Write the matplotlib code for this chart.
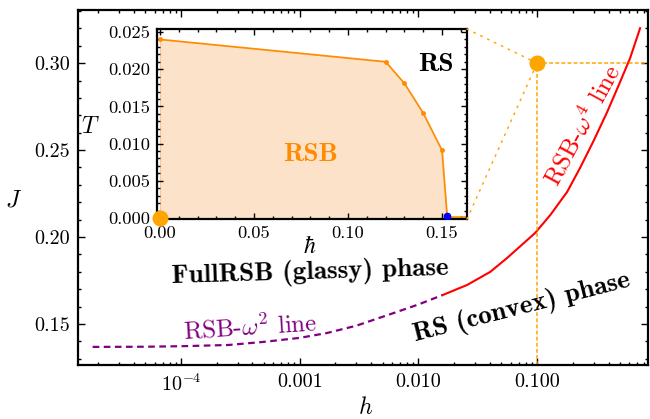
import numpy as np
import matplotlib
matplotlib.use("Agg")
import matplotlib.pyplot as plt
from matplotlib.ticker import MultipleLocator, LogLocator, NullFormatter, FormatStrFormatter
from matplotlib.patches import ConnectionPatch

plt.rcParams['font.family'] = 'serif'
plt.rcParams['font.serif'] = ['cmr10']
plt.rcParams['mathtext.fontset'] = 'cm'
plt.rcParams['axes.unicode_minus'] = False

# RSB-omega^2 line (dashed purple)
h_w2 = [1.8e-5, 5e-5, 1e-4, 2.5e-4, 5e-4, 1e-3, 1.7e-3, 3e-3, 6.2e-3, 1e-2, 1.61e-2]
J_w2 = [0.1368, 0.1369, 0.1372, 0.1379, 0.1397, 0.1420, 0.1448, 0.1490, 0.1563, 0.1612, 0.1667]

# RSB-omega^4 line (solid red)
h_w4 = [0.0161, 0.0257, 0.0402, 0.0558, 0.0962, 0.129, 0.179, 0.230, 0.296, 0.389, 0.500, 0.608, 0.738]
J_w4 = [0.1667, 0.1724, 0.1799, 0.1879, 0.2023, 0.2126, 0.2259, 0.2397, 0.2546, 0.2718, 0.2891, 0.3029, 0.3201]

# highlighted point
h_pt, J_pt = 0.1, 0.30

# inset: T vs hbar
hbar_in = [0.0, 0.12, 0.13, 0.14, 0.15, 0.1527]
T_in = [0.024, 0.021, 0.0181, 0.0141, 0.0091, 0.0003]
hbar_tail = [0.1527, 0.1633]
T_tail = [0.0001, 0.0001]

orange = '#FFA500'
dark_orange = '#FF8C00'
purple = '#800080'

fig = plt.figure(figsize=(6.5, 4.19), dpi=100)
ax = fig.add_axes([0.12, 0.1289, 0.877, 0.847])

ax.plot(h_w2, J_w2, color=purple, lw=1.6, ls=(0, (3, 2)))
ax.plot(h_w4, J_w4, color='red', lw=1.5)

ax.set_xscale('log')
ax.set_xlim(1.355e-5, 0.861)
ax.set_ylim(0.1264, 0.3305)

ax.plot([h_pt, h_pt], [0.1264, J_pt], color=orange, lw=1.1, ls=(0, (2.5, 1.5)))
ax.plot([h_pt, 0.861], [J_pt, J_pt], color=orange, lw=1.1, ls=(0, (2.5, 1.5)))
ax.plot(h_pt, J_pt, 'o', color=orange, ms=10.5, zorder=5)

ax.set_xticks([1e-4, 1e-3, 1e-2, 1e-1], labels=[r'$10^{-4}$', '0.001', '0.010', '0.100'])
ax.xaxis.set_minor_locator(LogLocator(base=10, subs=np.arange(2, 10)))
ax.xaxis.set_minor_formatter(NullFormatter())
ax.set_yticks([0.15, 0.20, 0.25, 0.30])
ax.yaxis.set_major_formatter(FormatStrFormatter('%.2f'))
ax.yaxis.set_minor_locator(MultipleLocator(0.01))
ax.tick_params(which='both', direction='in', top=True, right=True, labelsize=14.5, width=1)
ax.tick_params(which='major', length=5, pad=6)
ax.tick_params(which='minor', length=2.5)
for s in ax.spines.values():
    s.set_linewidth(1.6)

ax.set_xlabel('$h$', fontsize=17, va='center')
ax.xaxis.set_label_coords(0.5035, -0.122)
ax.set_ylabel('$J$', fontsize=17, rotation=0, va='center', ha='center')
ax.yaxis.set_label_coords(-0.114, 0.465)

ax.text(0.407, 0.259, 'FullRSB (glassy) phase', transform=ax.transAxes, family='cmb10',
        fontsize=19.5, rotation=1.7, ha='center', va='center', rotation_mode='anchor')
ax.text(0.779, 0.161, 'RS (convex) phase', transform=ax.transAxes, family='cmb10',
        fontsize=19.5, rotation=14.3, ha='center', va='center', rotation_mode='anchor')
ax.text(0.886, 0.676, r'RSB-$\omega^4$ line', transform=ax.transAxes, color='red',
        fontsize=18, rotation=61.5, ha='center', va='center', rotation_mode='anchor')
ax.text(0.302, 0.107, r'RSB-$\omega^2$ line', transform=ax.transAxes, color=purple,
        fontsize=18, rotation=3.7, ha='center', va='center', rotation_mode='anchor')

# inset
axin = fig.add_axes([157 / 650, 1 - 219 / 419, 310 / 650, 190 / 419])
axin.fill_between(hbar_in, T_in, 0, color='#FDE2CA', edgecolor='#FBC89A', lw=0.8)
axin.plot(hbar_in, T_in, color=dark_orange, lw=1.2, marker='o', ms=2.5)
axin.plot(hbar_tail, T_tail, color=dark_orange, lw=1.2)
axin.plot(hbar_in[-1], T_in[-1], 'o', color='blue', ms=4.5, zorder=5)
axin.plot(0, 0, 'o', color=orange, ms=10.5, clip_on=False, zorder=10)
axin.set_xlim(-0.0016, 0.1633)
axin.set_ylim(-0.00013, 0.0254)
axin.set_xticks([0.0, 0.05, 0.10, 0.15])
axin.xaxis.set_major_formatter(FormatStrFormatter('%.2f'))
axin.xaxis.set_minor_locator(MultipleLocator(0.01))
axin.set_yticks([0.0, 0.005, 0.010, 0.015, 0.020, 0.025])
axin.yaxis.set_major_formatter(FormatStrFormatter('%.3f'))
axin.yaxis.set_minor_locator(MultipleLocator(0.001))
axin.tick_params(which='both', direction='in', top=True, right=True, labelsize=13.3, width=1)
axin.tick_params(which='major', length=4, pad=5)
axin.tick_params(which='minor', length=2)
for s in axin.spines.values():
    s.set_linewidth(1.6)
axin.set_xlabel(r'$\hbar$', fontsize=17, va='center')
axin.xaxis.set_label_coords(0.494, -0.147)
axin.set_ylabel('$T$', fontsize=17, rotation=0, va='center', ha='center')
axin.yaxis.set_label_coords(-0.216, 0.484)
axin.text(0.147, 0.0206, 'RS', family='cmb10', fontsize=19.5, ha='center', va='center')
axin.text(0.080, 0.0085, 'RSB', family='cmb10', fontsize=19.5, color=dark_orange,
          ha='center', va='center')

for corner in [(1, 1), (1, 0)]:
    con = ConnectionPatch(xyA=corner, coordsA=axin.transAxes, xyB=(h_pt, J_pt),
                          coordsB=ax.transData, color=orange, lw=1.1, ls=(0, (1, 4)))
    fig.add_artist(con)

fig.savefig('out.png', dpi=100)
